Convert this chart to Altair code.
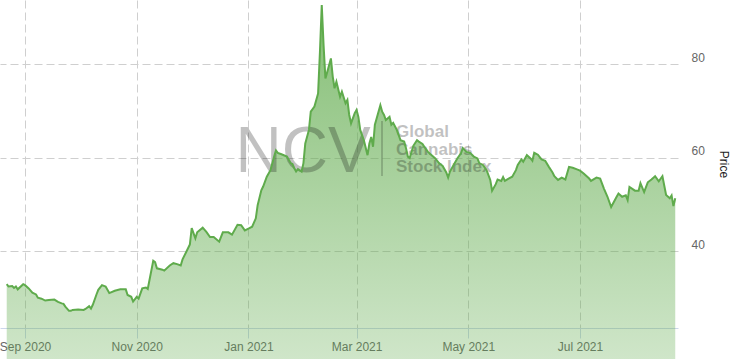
import altair as alt
import pandas as pd

dates = [
    "2020-08-22", "2020-08-23", "2020-08-25", "2020-08-26", "2020-08-27", "2020-08-28", "2020-08-31",
    "2020-09-01", "2020-09-03", "2020-09-05", "2020-09-07", "2020-09-08", "2020-09-10", "2020-09-12", "2020-09-14",
    "2020-09-17", "2020-09-19", "2020-09-21", "2020-09-22", "2020-09-23", "2020-09-25", "2020-09-26", "2020-09-27", "2020-09-30",
    "2020-10-03", "2020-10-04", "2020-10-06", "2020-10-07", "2020-10-08", "2020-10-10", "2020-10-11", "2020-10-13",
    "2020-10-15", "2020-10-17", "2020-10-20", "2020-10-23", "2020-10-26", "2020-10-27", "2020-10-29", "2020-10-30",
    "2020-11-01", "2020-11-02", "2020-11-04", "2020-11-06", "2020-11-07", "2020-11-10", "2020-11-11", "2020-11-12",
    "2020-11-15", "2020-11-16", "2020-11-19", "2020-11-21", "2020-11-23", "2020-11-25", "2020-11-26", "2020-11-28", "2020-11-30",
    "2020-12-01", "2020-12-03", "2020-12-04", "2020-12-07", "2020-12-09", "2020-12-11", "2020-12-13", "2020-12-16",
    "2020-12-18", "2020-12-21", "2020-12-23", "2020-12-26", "2020-12-28", "2020-12-30",
    "2021-01-01", "2021-01-03", "2021-01-05", "2021-01-06", "2021-01-08", "2021-01-09", "2021-01-11", "2021-01-13",
    "2021-01-15", "2021-01-16", "2021-01-17", "2021-01-19", "2021-01-22", "2021-01-24", "2021-01-25", "2021-01-26",
    "2021-01-27", "2021-01-28", "2021-01-30", "2021-01-31",
    "2021-02-01", "2021-02-03", "2021-02-04", "2021-02-06", "2021-02-08", "2021-02-09", "2021-02-10", "2021-02-11",
    "2021-02-12", "2021-02-13", "2021-02-15", "2021-02-16", "2021-02-17", "2021-02-18", "2021-02-20", "2021-02-21",
    "2021-02-23", "2021-02-24", "2021-02-25", "2021-02-26", "2021-02-28",
    "2021-03-01", "2021-03-02", "2021-03-03", "2021-03-05", "2021-03-07", "2021-03-08", "2021-03-09", "2021-03-10",
    "2021-03-11", "2021-03-12", "2021-03-14", "2021-03-15", "2021-03-16", "2021-03-17", "2021-03-19", "2021-03-20",
    "2021-03-21", "2021-03-23", "2021-03-25", "2021-03-27", "2021-03-28", "2021-03-29", "2021-03-30",
    "2021-04-01", "2021-04-03", "2021-04-04", "2021-04-06", "2021-04-07", "2021-04-09", "2021-04-11", "2021-04-13",
    "2021-04-15", "2021-04-17", "2021-04-19", "2021-04-20", "2021-04-21", "2021-04-23", "2021-04-25", "2021-04-27",
    "2021-04-28", "2021-04-30",
    "2021-05-02", "2021-05-04", "2021-05-06", "2021-05-07", "2021-05-09", "2021-05-11", "2021-05-13", "2021-05-14",
    "2021-05-16", "2021-05-17", "2021-05-19", "2021-05-20", "2021-05-21", "2021-05-23", "2021-05-25", "2021-05-27",
    "2021-05-28", "2021-05-30", "2021-05-31",
    "2021-06-02", "2021-06-04", "2021-06-05", "2021-06-06", "2021-06-08", "2021-06-10", "2021-06-12", "2021-06-14",
    "2021-06-16", "2021-06-17", "2021-06-19", "2021-06-21", "2021-06-23", "2021-06-25", "2021-06-27", "2021-06-29",
    "2021-07-01", "2021-07-03", "2021-07-06", "2021-07-07", "2021-07-10", "2021-07-12", "2021-07-14", "2021-07-16",
    "2021-07-18", "2021-07-21", "2021-07-22", "2021-07-24", "2021-07-26", "2021-07-27", "2021-07-28", "2021-07-31",
    "2021-08-02", "2021-08-03", "2021-08-05", "2021-08-07", "2021-08-09", "2021-08-11", "2021-08-13", "2021-08-15",
    "2021-08-17", "2021-08-19", "2021-08-20", "2021-08-21", "2021-08-22",
]

prices = [
    32.9, 32.4, 32.5, 32.1, 32.4, 31.8, 32.9,
    32.7, 32.0, 31.1, 30.7, 30.0, 29.8, 29.4, 29.5,
    29.6, 29.1, 28.8, 28.7, 28.1, 27.2, 27.2, 27.4, 27.5,
    27.4, 27.6, 28.2, 27.7, 28.5, 30.7, 31.7, 32.7,
    32.4, 31.0, 31.5, 31.8, 31.8, 30.6, 30.2, 29.2,
    30.2, 29.8, 32.0, 32.2, 31.9, 37.9, 37.6, 36.3,
    36.0, 35.8, 36.9, 37.4, 37.2, 36.9, 38.2, 39.8, 41.4,
    44.9, 42.7, 44.0, 45.0, 44.1, 43.0, 43.0, 42.0,
    44.0, 44.0, 43.5, 45.6, 45.5, 44.4,
    44.8, 45.2, 47.0, 49.8, 53.0, 53.8, 55.9, 57.3,
    60.2, 61.5, 61.0, 60.7, 60.2, 58.8, 58.6, 57.7,
    57.0, 57.5, 57.0, 58.8,
    63.0, 65.9, 69.8, 70.9, 73.7, 82.5, 92.6, 84.0,
    76.9, 78.3, 81.2, 77.3, 74.8, 76.2, 73.0, 74.1,
    71.6, 72.3, 69.1, 67.3, 69.5,
    70.2, 68.7, 65.9, 63.7, 60.5, 63.0, 64.4, 62.3,
    67.0, 68.4, 71.2, 69.8, 69.1, 68.0, 68.7, 67.0,
    67.4, 65.9, 63.7, 63.4, 62.0, 60.2, 59.9,
    62.5, 63.7, 63.4, 62.9, 62.3, 61.2, 60.5, 59.8,
    58.8, 58.2, 56.8, 55.7, 57.0, 58.4, 59.8, 60.9,
    62.0, 61.2,
    61.0, 60.2, 59.8, 58.8, 58.4, 57.3, 55.2, 52.9,
    54.3, 55.3, 55.0, 55.8, 55.0, 55.5, 55.9, 57.3,
    58.4, 59.6, 59.1,
    60.5, 59.8, 59.3, 61.0, 60.6, 59.6, 59.3, 58.0,
    56.8, 56.0, 55.2, 55.7, 55.3, 58.0, 57.8, 57.5,
    57.2, 56.6, 55.5, 55.0, 55.7, 55.5, 53.4, 51.6,
    49.4, 51.6, 52.3, 51.6, 51.9, 50.9, 53.7, 52.9,
    52.9, 54.5, 52.6, 54.7, 55.3, 56.0, 54.9, 56.0,
    52.0, 51.3, 51.9, 49.6, 51.3,
]

tick_months = [(2020, 9), (2020, 11), (2021, 1), (2021, 3), (2021, 5), (2021, 7)]
y_ticks = [40, 60, 80]
wm_big = "NCV"
wm_lines = ["Global", "Cannabis", "Stock Index"]

df = pd.DataFrame({"date": pd.to_datetime(dates), "price": prices})
one = pd.DataFrame({"k": [0]})

FONT = "Liberation Sans"
GRID = "#cfcfcf"

x_enc = alt.X(
    "date:T",
    scale=alt.Scale(domain=[alt.DateTime(year=2020, month=8, date=18, hours=8),
                            alt.DateTime(year=2021, month=8, date=23, hours=12)]),
    axis=alt.Axis(
        values=[alt.DateTime(year=y, month=m, date=1) for y, m in tick_months],
        format="%b %Y", title=None, grid=True, gridDash=[8, 4], gridColor=GRID,
        domainColor="#ccd6eb", tickColor="#ccd6eb", tickSize=10, labelPadding=3,
        labelColor="#666666", labelFont=FONT, labelFontSize=12,
    ),
)
y_enc = alt.Y(
    "price:Q",
    scale=alt.Scale(domain=[23.53, 93.69], nice=False, zero=False),
    axis=alt.Axis(
        orient="right", values=y_ticks, title="Price", titleAngle=90,
        titleColor="#222222", titleFont=FONT, titleFontSize=12, titleFontWeight="normal",
        titlePadding=12, labelPadding=13, ticks=False, domain=False, grid=True,
        gridDash=[8, 4], gridColor=GRID, labelBaseline="bottom",
        labelColor="#666666", labelFont=FONT, labelFontSize=12,
    ),
)

area = alt.Chart(df).mark_area(
    color=alt.Gradient(
        gradient="linear",
        stops=[alt.GradientStop(color="rgba(98,172,78,0.78)", offset=0),
               alt.GradientStop(color="rgba(98,172,78,0.2)", offset=1)],
        x1=1, x2=1, y1=0, y2=1,
    )
).encode(x=x_enc, y=y_enc)

line = alt.Chart(df).mark_line(color="#5fab4c", strokeWidth=2).encode(x="date:T", y="price:Q")

wm_color = "#000000"
wm_op = 0.24
ncv = alt.Chart(one).mark_text(
    text=wm_big, font=FONT, fontSize=64, align="center", baseline="alphabetic",
    color=wm_color, opacity=wm_op,
).encode(x=alt.value(303), y=alt.value(172))
sep = alt.Chart(one).mark_rule(color=wm_color, opacity=wm_op, strokeWidth=1.5).encode(
    x=alt.value(382), y=alt.value(121), y2=alt.value(176))
wm_texts = [
    alt.Chart(one).mark_text(
        text=t, font=FONT, fontSize=17, fontWeight="bold", align="left", baseline="alphabetic",
        color=wm_color, opacity=wm_op,
    ).encode(x=alt.value(396), y=alt.value(137 + 17.5 * i))
    for i, t in enumerate(wm_lines)
]

chart = alt.layer(area, *wm_texts, ncv, sep, line).properties(
    width=678, height=328,
    padding={"left": 0, "top": 0, "right": 57, "bottom": 31},
    autosize="none",
).configure_view(stroke=None)

chart.save("out.html", embed_options={"renderer": "svg", "actions": False})
